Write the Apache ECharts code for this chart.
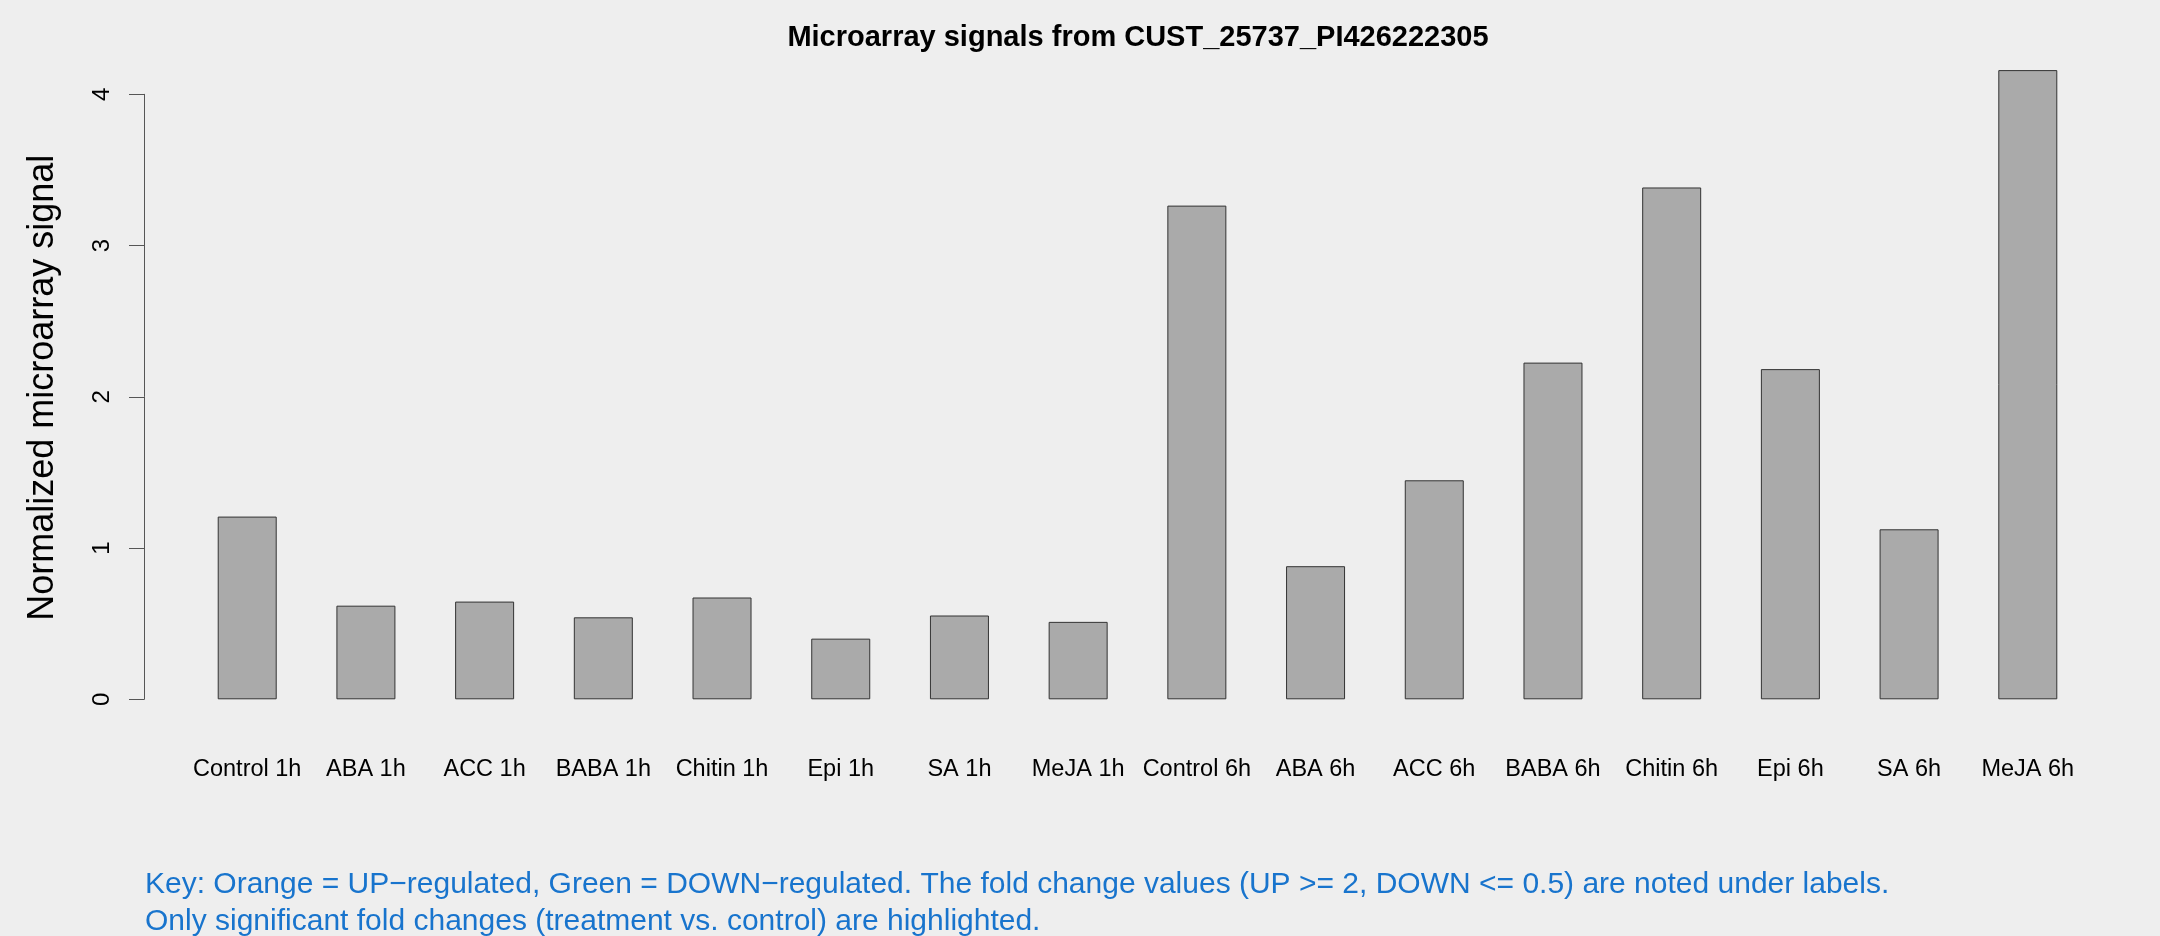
<!DOCTYPE html>
<html>
<head>
<meta charset="utf-8">
<script src="https://cdn.jsdelivr.net/npm/echarts@6/dist/echarts.min.js"></script>
<style>
html,body{margin:0;padding:0;background:#eeeeee;}
#chart{width:2160px;height:936px;}
</style>
</head>
<body>
<div id="chart"></div>
<script>
const categories = ["Control 1h","ABA 1h","ACC 1h","BABA 1h","Chitin 1h","Epi 1h","SA 1h","MeJA 1h","Control 6h","ABA 6h","ACC 6h","BABA 6h","Chitin 6h","Epi 6h","SA 6h","MeJA 6h"];
const signalValues = [1.208,0.619,0.646,0.542,0.673,0.401,0.554,0.512,3.264,0.880,1.448,2.226,3.384,2.183,1.124,4.160];
const yTicks = [0,1,2,3,4];
const titleText = "Microarray signals from CUST_25737_PI426222305";
const yAxisName = "Normalized microarray signal";
const keyLines = [
  "Key: Orange = UP\u2212regulated, Green = DOWN\u2212regulated. The fold change values (UP >= 2, DOWN <= 0.5) are noted under labels.",
  "Only significant fold changes (treatment vs. control) are highlighted."
];

const chart = echarts.init(document.getElementById('chart'), null, {renderer:'canvas'});
const FONT = "'Liberation Sans', Arial, Helvetica, sans-serif";
chart.setOption({
  backgroundColor: '#eeeeee',
  animation: false,
  textStyle: {fontFamily: FONT},
  title: [
    {
      text: titleText,
      left: 1133,
      textAlign: 'center',
      top: 18,
      textStyle: {fontFamily: FONT, fontSize: 29, fontWeight: 'bold', color: '#000'}
    },
    {
      text: keyLines.join('\n'),
      left: 145,
      top: 866,
      padding: 0,
      textStyle: {fontFamily: FONT, fontSize: 30, fontWeight: 'normal', color: '#1874CD', lineHeight: 37}
    }
  ],
  grid: {left: 187.85, right: 72.85, top: 94.3, bottom: 936 - 699.3, containLabel: false},
  xAxis: {
    type: 'category',
    data: categories,
    boundaryGap: true,
    axisLine: {show: false},
    axisTick: {show: false},
    splitLine: {show: false},
    axisLabel: {interval: 0, fontFamily: FONT, fontSize: 23.5, color: '#000', margin: 58, lineHeight: 24}
  },
  yAxis: {
    type: 'value',
    min: 0, max: 4, interval: 1,
    offset: 43.85,
    name: yAxisName,
    nameLocation: 'middle',
    nameRotate: 90,
    nameGap: 83,
    nameTextStyle: {fontFamily: FONT, fontSize: 36, color: '#000', padding: [0,0,0,18]},
    axisLine: {show: true, lineStyle: {color: '#555', width: 1}},
    axisTick: {show: true, length: 15, lineStyle: {color: '#555', width: 1}},
    splitLine: {show: false},
    axisLabel: {
      rotate: 90, fontFamily: FONT, fontSize: 24, color: '#000', margin: 30,
      formatter: function (v) { return yTicks.indexOf(v) >= 0 ? String(v) : ''; }
    }
  },
  series: [{
    type: 'bar',
    data: signalValues,
    barWidth: 59,
    clip: false,
    itemStyle: {color: '#aaaaaa', borderColor: '#333', borderWidth: 1}
  }]
});
</script>
</body>
</html>
